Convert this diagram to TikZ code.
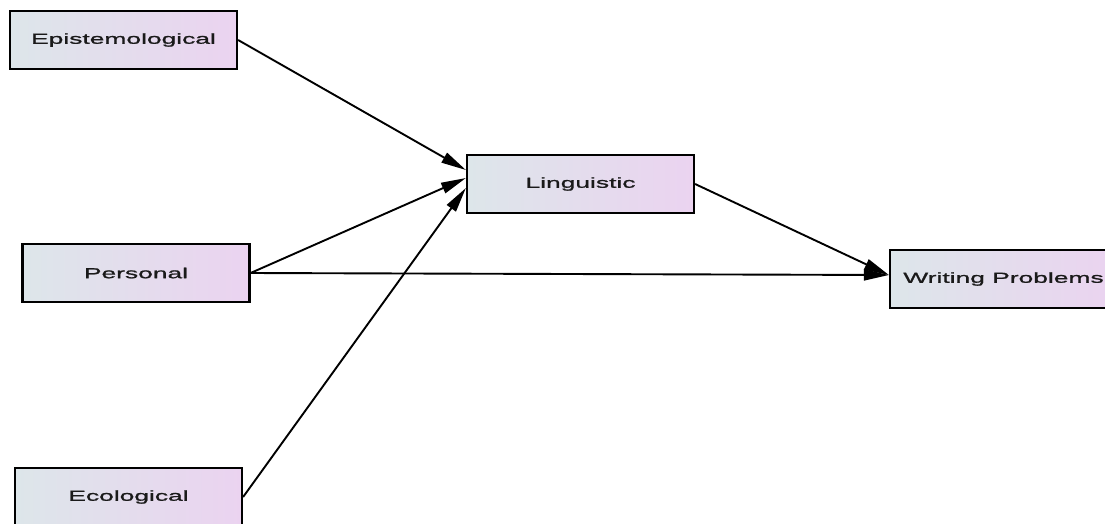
\documentclass[tikz,border=0pt]{standalone}
\usepackage{fontspec}
\newfontfamily\boxfont[FakeStretch=1.82, FakeBold=1.2]{Liberation Sans}
\usetikzlibrary{arrows.meta, positioning, calc}
\definecolor{boxleft}{HTML}{DDE6EA}
\definecolor{boxright}{HTML}{EBD3F0}
\definecolor{boxtext}{HTML}{1A1A1A}

\begin{document}
\begin{tikzpicture}[x=1pt, y=-1pt,
  factor/.style={draw=black, line width=2.2pt, left color=boxleft, right color=boxright,
    minimum width=227pt, minimum height=58pt, inner sep=0pt, text=boxtext,
    font=\boxfont\fontsize{14.5}{16}\selectfont},
  link/.style={line width=1.9pt, -{Triangle[length=25pt,width=11pt]}}]
\useasboundingbox (0,0) rectangle (1105,523);
\node[factor] (epi) at (123.5,40) {Epistemological};
\node[factor] (pers) at (136,273) {Personal};
\node[factor] (eco) at (128.5,497) {Ecological};
\node[factor] (ling) at (580.5,184) {Linguistic};
\node[factor] (wp) at (1003.5,279) {Writing Problems};
\draw[link] (epi.east) -- ([yshift=14pt]ling.west);
\draw[link] (pers.east) -- ([yshift=6pt]ling.west);
\draw[link] (eco.east) -- ([yshift=-4pt]ling.west);
\draw[link] (pers.east) -- ([yshift=4pt]wp.west);
\draw[link] (ling.east) -- ([yshift=4pt]wp.west);
\end{tikzpicture}
\end{document}
